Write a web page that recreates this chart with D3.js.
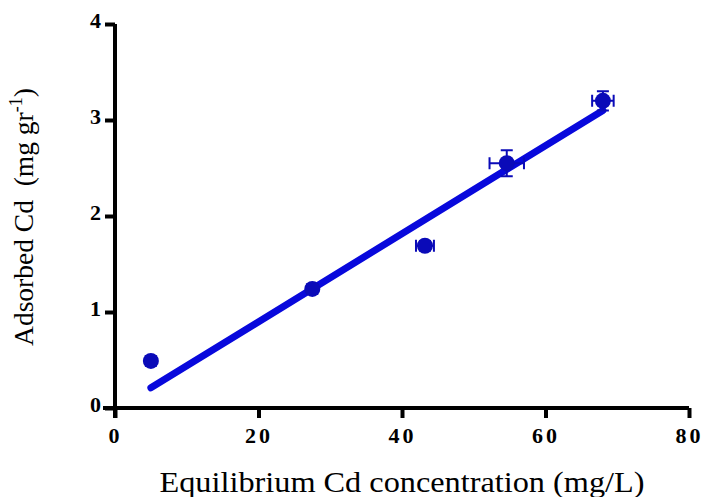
<!DOCTYPE html>
<html>
<head>
<meta charset="utf-8">
<script src="https://cdn.jsdelivr.net/npm/d3@7"></script>
<style>
   body { margin: 0; background: #fff; }
   svg { display: block; }
</style>
</head>
<body>
<div id="chart"></div>
<script>
// measured points (mean and error)
const concX = [5.0, 27.5, 43.2, 54.6, 68.0];
const adsorbedY = [0.49, 1.24, 1.69, 2.55, 3.20];
const errX = [0.4, 0.5, 1.25, 2.4, 1.5];
const errY = [0.05, 0.05, 0.05, 0.135, 0.1];

// linear fit end points
const fitX = [5.0, 68.0];
const fitY = [0.21, 3.10];

const xTicks = [0, 20, 40, 60, 80];
const yTicks = [0, 1, 2, 3, 4];

const chartW = 703, chartH = 497;
const plotL = 115, plotR = 689, plotT = 24, plotB = 408;

const svg = d3.select("#chart")
   .append("svg")
   .attr("width", chartW)
   .attr("height", chartH);

const x = d3.scaleLinear().domain([0, 80]).range([plotL, plotR]);
const y = d3.scaleLinear().domain([0, 4]).range([plotB, plotT]);

const xAxis = svg.append("g")
   .attr("transform", `translate(0,${plotB})`)
   .call(d3.axisBottom(x).tickValues(xTicks).tickFormat(d3.format("d")).tickSize(10).tickPadding(6).tickSizeOuter(0));

const yAxis = svg.append("g")
   .attr("transform", `translate(${plotL},0)`)
   .call(d3.axisLeft(y).tickValues(yTicks).tickFormat(d3.format("d")).tickSize(10).tickPadding(4).tickSizeOuter(0));

[xAxis, yAxis].forEach(function(g) {
   g.select(".domain").attr("stroke", "#000").attr("stroke-width", 4);
   g.selectAll(".tick line").attr("stroke", "#000").attr("stroke-width", 4);
   g.selectAll(".tick text")
      .attr("fill", "#000")
      .style("font-family", "'Liberation Serif', 'Times New Roman', serif")
      .style("font-weight", "bold")
      .style("font-size", "22px");
});

// axis lines run a little past each other at the origin
xAxis.select(".domain").attr("d", `M${plotL - 12},0H${plotR}`);
yAxis.select(".domain").attr("d", `M0,${plotB + 10}V${plotT}`);

xAxis.selectAll(".tick text").style("letter-spacing", "3px").attr("dy", "0.85em");
yAxis.selectAll(".tick text").attr("dy", "0.15em");

const blue = "#0a0ab8";

// fit line
svg.append("line")
   .attr("x1", x(fitX[0])).attr("y1", y(fitY[0]))
   .attr("x2", x(fitX[1])).attr("y2", y(fitY[1]))
   .attr("stroke", "#0808dc")
   .attr("stroke-width", 7)
   .attr("stroke-linecap", "round");

const pts = concX.map(function(d, i) {
   return { x: d, y: adsorbedY[i], ex: errX[i], ey: errY[i] };
});

const eb = svg.append("g").attr("stroke", blue).attr("stroke-width", 2).attr("fill", "none");
const cap = 6;

pts.forEach(function(d) {
   const cx = x(d.x), cy = y(d.y);
   const x0 = x(d.x - d.ex), x1 = x(d.x + d.ex);
   const y0 = y(d.y - d.ey), y1 = y(d.y + d.ey);
   eb.append("path").attr("d",
      `M${x0},${cy}H${x1}` +
      `M${x0},${cy - cap}V${cy + cap}` +
      `M${x1},${cy - cap}V${cy + cap}` +
      `M${cx},${y0}V${y1}` +
      `M${cx - cap},${y0}H${cx + cap}` +
      `M${cx - cap},${y1}H${cx + cap}`);
});

svg.append("g")
   .selectAll("circle")
   .data(pts)
   .enter()
   .append("circle")
   .attr("cx", function(d) { return x(d.x); })
   .attr("cy", function(d) { return y(d.y); })
   .attr("r", 8)
   .attr("fill", blue);

// axis titles
svg.append("text")
   .attr("x", 402)
   .attr("y", 492)
   .attr("text-anchor", "middle")
   .attr("textLength", 485)
   .attr("lengthAdjust", "spacingAndGlyphs")
   .style("font-family", "'Liberation Serif', 'Times New Roman', serif")
   .style("font-size", "29px")
   .text("Equilibrium Cd concentration (mg/L)");

const yt = svg.append("text")
   .attr("transform", "translate(33,217) rotate(-90)")
   .attr("text-anchor", "middle")
   .style("font-family", "'Liberation Serif', 'Times New Roman', serif")
   .style("font-size", "27.5px")
   .attr("xml:space", "preserve");
yt.append("tspan").text("Adsorbed Cd  (mg gr");
yt.append("tspan").attr("dy", -11).style("font-size", "18px").text("-1");
yt.append("tspan").attr("dy", 11).text(")");
</script>
</body>
</html>
